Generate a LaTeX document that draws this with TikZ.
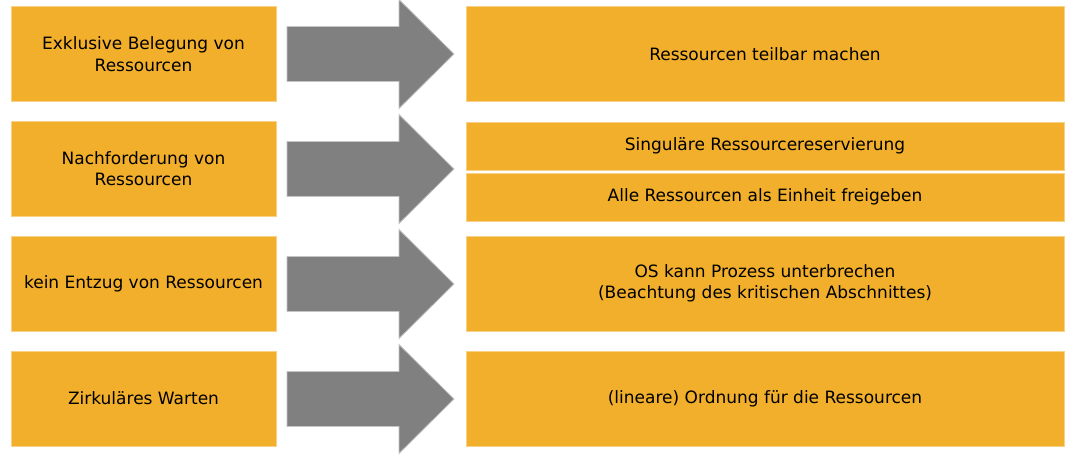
\documentclass[tikz,border=0pt]{standalone}
\usepackage{fontspec}
\setmainfont{DejaVu Sans}
\definecolor{boxfill}{HTML}{F1AF2C}
\definecolor{boxedge}{HTML}{F8D184}
\definecolor{arrfill}{HTML}{808080}
\definecolor{arredge}{HTML}{C4C4C4}
\begin{document}
\begin{tikzpicture}[x=1pt,y=-1pt,
  box/.style={draw=boxedge,line width=0.8pt,fill=boxfill,align=center,inner sep=0pt,
    font=\fontsize{17}{21.5}\selectfont,text=black},
  lbox/.style={box,minimum width=265pt,minimum height=95pt},
  rbox/.style={box,minimum width=598pt,minimum height=95pt},
  hbox/.style={box,minimum width=598pt,minimum height=48pt},
  bigarrow/.style={draw=arredge,line width=0.8pt,fill=arrfill}]
\useasboundingbox (0,0) rectangle (1071,456);
% left column
\node[lbox] (l1) at (143.5,54) {Exklusive Belegung von\\Ressourcen};
\node[lbox] (l2) at (143.5,168.5) {Nachforderung von\\Ressourcen};
\node[lbox] (l3) at (143.5,283.5) {kein Entzug von Ressourcen};
\node[lbox] (l4) at (143.5,398.5) {Zirkuläres Warten};
% right column
\node[rbox] (r1) at (765,54) {Ressourcen teilbar machen};
\node[hbox] (r2a) at (765,146) {Singuläre Ressourcereservierung};
\node[hbox] (r2b) at (765,197) {Alle Ressourcen als Einheit freigeben};
\node[rbox] (r3) at (765,283.5) {OS kann Prozess unterbrechen\\(Beachtung des kritischen Abschnittes)};
\node[rbox] (r4) at (765,398.5) {(lineare) Ordnung für die Ressourcen};
% block arrows
\foreach \c in {54,169,284,399}{
  \draw[bigarrow] (287,\c-27.5) -- (399,\c-27.5) -- (399,\c-54.5) -- (454,\c)
    -- (399,\c+54.5) -- (399,\c+27.5) -- (287,\c+27.5) -- cycle;
}
\end{tikzpicture}
\end{document}
